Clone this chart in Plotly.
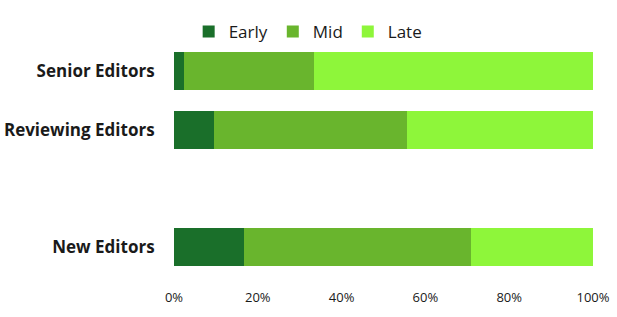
import plotly.graph_objects as go

categories = ["Senior Editors", "Reviewing Editors", "New Editors"]
category_positions = [0, 1, 3]
early = [2.3, 9.6, 16.6]
mid = [31.0, 46.0, 54.2]
late = [66.7, 44.4, 29.2]
series_names = ["Early", "Mid", "Late"]
series_colors = ["#1a6f2a", "#69b52d", "#8ef63a"]
x_tick_vals = [0, 20, 40, 60, 80, 100]
x_tick_text = ["0%", "20%", "40%", "60%", "80%", "100%"]

fig = go.Figure()
for name, vals, color in zip(series_names, [early, mid, late], series_colors):
    fig.add_trace(go.Bar(
        y=category_positions, x=vals, name=name, orientation="h",
        marker=dict(color=color, line=dict(width=0)), width=0.65,
    ))

fig.update_layout(
    barmode="stack",
    width=617, height=317,
    margin=dict(l=173.5, r=24, t=41.75, b=40.75, autoexpand=False),
    paper_bgcolor="white", plot_bgcolor="white",
    font=dict(family="Open Sans", color="#1a1a1a"),
    legend=dict(orientation="h", x=0.035, xanchor="left", y=1.043, yanchor="middle",
                font=dict(size=17), itemwidth=30, traceorder="normal"),
    xaxis=dict(range=[0, 100], tickvals=x_tick_vals, ticktext=x_tick_text,
               showgrid=False, zeroline=False, showline=False, automargin=False,
               tickfont=dict(size=13), ticks="outside", ticklen=9, tickcolor="white"),
    yaxis=dict(range=[3.5, -0.5], tickvals=category_positions, ticktext=categories,
               showgrid=False, zeroline=False, showline=False, automargin=False,
               tickfont=dict(size=17, family="Open Sans", weight="bold"),
               ticks="outside", ticklen=15, tickcolor="white"),
)

fig.write_html("out.html",
               config={"displayModeBar": False},
               post_script="document.body.style.margin='0';document.body.style.overflow='hidden';")
